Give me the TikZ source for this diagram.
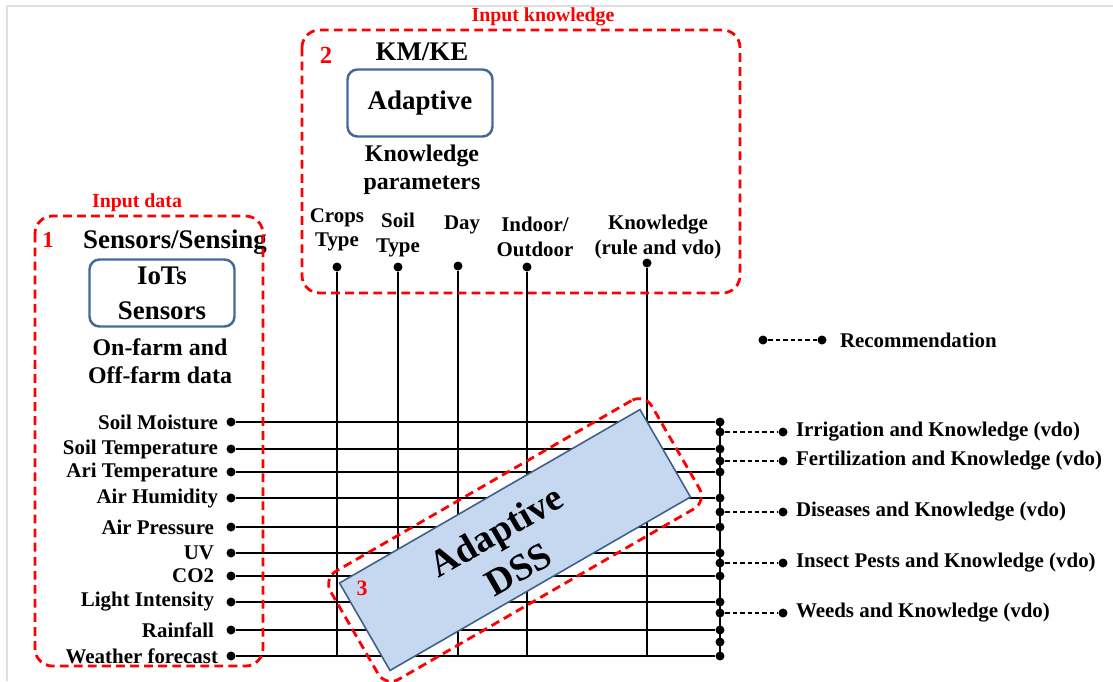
\documentclass[tikz,border=0pt]{standalone}
\usepackage{fontspec}
\setmainfont{Liberation Serif}
\usepackage{tikz}
\usetikzlibrary{positioning}

\definecolor{boxblue}{HTML}{41689B}
\definecolor{dssfill}{HTML}{C6D8EF}
\definecolor{dssedge}{HTML}{3F5F8A}

\tikzset{
  dot/.style={circle,fill=black,inner sep=0pt,minimum size=0.18cm},
  sens/.style={font=\fontsize{11.9}{14}\selectfont\bfseries,inner sep=1pt},
  param/.style={font=\fontsize{11.9}{14}\selectfont\bfseries,align=center,inner sep=1pt},
  head/.style={font=\fontsize{15.3}{18}\selectfont\bfseries,inner sep=1pt},
  sub/.style={font=\fontsize{13.6}{16}\selectfont\bfseries,align=center,inner sep=1pt},
  redlab/.style={font=\fontsize{11.3}{13}\selectfont\bfseries,text=red,inner sep=1pt},
  rednum/.style={font=\fontsize{14}{16}\selectfont\bfseries,text=red,inner sep=1pt},
  bluebox/.style={draw=boxblue,line width=1.4pt,rounded corners=0.2cm,align=center,
    font=\fontsize{15.3}{20}\selectfont\bfseries,minimum width=2.9cm,minimum height=1.34cm},
  redbox/.style={draw=red,line width=1.6pt,dash pattern=on 5pt off 3pt,rounded corners=0.35cm},
  reco/.style={line width=0.8pt,dash pattern=on 2.5pt off 1.7pt},
}

\begin{document}
\begin{tikzpicture}[x=0.02cm,y=-0.02cm,line width=1pt]
\useasboundingbox (0,0) rectangle (1113,681);
\draw[gray!25,line width=1.2pt] (1113,6) -- (7,6) -- (7,681);

% input data (sensors)
\node[redlab] (indata) at (137,203) {Input data};
\node[rednum,font=\fontsize{13}{15}\selectfont\bfseries] (n1) at (48,240) {1};
\node[head] (sensing) at (175,242) {Sensors/Sensing};
\node[bluebox] (iot) at (162,293) {IoTs\\Sensors};
\node[sub] (farm) at (160,361) {On-farm and\\Off-farm data};

\node[dot] (d1) at (231,422) {};
\node[dot] (d2) at (231,449) {};
\node[dot] (d3) at (231,472) {};
\node[dot] (d4) at (231,498) {};
\node[dot] (d5) at (231,527) {};
\node[dot] (d6) at (231,553) {};
\node[dot] (d7) at (231,576) {};
\node[dot] (d8) at (231,602) {};
\node[dot] (d9) at (231,630) {};
\node[dot] (d10) at (231,656) {};
\node[sens,left=0.1cm of d1] (s1) {Soil Moisture};
\node[sens,left=0.1cm of d2] (s2) {Soil Temperature};
\node[sens,left=0.1cm of d3] (s3) {Ari Temperature};
\node[sens,left=0.1cm of d4] (s4) {Air Humidity};
\node[sens,left=0.18cm of d5] (s5) {Air Pressure};
\node[sens,left=0.18cm of d6] (s6) {UV};
\node[sens,left=0.18cm of d7] (s7) {CO2};
\node[sens,left=0.18cm of d8] (s8) {Light Intensity};
\node[sens,left=0.18cm of d9] (s9) {Rainfall};
\node[sens,left=0.1cm of d10] (s10) {Weather forecast};

% bus on the right
\node[dot] (r1) at (720,422) {};
\node[dot] (r2) at (720,449) {};
\node[dot] (r3) at (720,472) {};
\node[dot] (r4) at (720,498) {};
\node[dot] (r5) at (720,527) {};
\node[dot] (r6) at (720,553) {};
\node[dot] (r7) at (720,576) {};
\node[dot] (r8) at (720,602) {};
\node[dot] (r9) at (720,630) {};
\node[dot] (r10) at (720,656) {};
\node[dot] (rx) at (720,642) {};
\draw (d1) -- (r1);
\draw (d2) -- (r2);
\draw (d3) -- (r3);
\draw (d4) -- (r4);
\draw (d5) -- (r5);
\draw (d6) -- (r6);
\draw (d7) -- (r7);
\draw (d8) -- (r8);
\draw (d9) -- (r9);
\draw (d10) -- (r10);
\draw (r1.center) -- (r10.center);

% knowledge parameters
\node[redlab] (inknow) at (543,17) {Input knowledge};
\node[rednum] (n2) at (326,55) {2};
\node[head] (kmke) at (422,52) {KM/KE};
\node[bluebox] (adapt) at (420,103) {Adaptive};
\node[sub] (kpar) at (422,170) {Knowledge\\parameters};

\node[param] (t1) at (337,230) {Crops\\Type};
\node[param] (t2) at (398,235) {Soil\\Type};
\node[param] (t3) at (462,225) {Day};
\node[param] (t4) at (535,237) {Indoor/\\Outdoor};
\node[param] (t5) at (658,237) {Knowledge\\(rule and vdo)};
\node[dot] (p1) at (337,267) {};
\node[dot] (p2) at (398,267) {};
\node[dot] (p3) at (458,266) {};
\node[dot] (p4) at (527,267) {};
\node[dot] (p5) at (647,263) {};
\coordinate (b1) at (337,656);
\coordinate (b2) at (398,656);
\coordinate (b3) at (458,656);
\coordinate (b4) at (527,656);
\coordinate (b5) at (647,656);
\draw (p1) -- (b1);
\draw (p2) -- (b2);
\draw (p3) -- (b3);
\draw (p4) -- (b4);
\draw (p5) -- (b5);

% recommendations
\node[dot] (o1) at (720,432) {};
\node[dot] (o2) at (720,461) {};
\node[dot] (o3) at (720,512) {};
\node[dot] (o4) at (720,563) {};
\node[dot] (o5) at (720,613) {};
\node[dot] (e1) at (783,432) {};
\node[dot] (e2) at (783,461) {};
\node[dot] (e3) at (783,512) {};
\node[dot] (e4) at (783,563) {};
\node[dot] (e5) at (783,613) {};
\draw[reco] (o1) -- (e1);
\draw[reco] (o2) -- (e2);
\draw[reco] (o3) -- (e3);
\draw[reco] (o4) -- (e4);
\draw[reco] (o5) -- (e5);
\node[sens,right=0.1cm of e1] (a1) {Irrigation and Knowledge (vdo)};
\node[sens,right=0.1cm of e2] (a2) {Fertilization and Knowledge (vdo)};
\node[sens,right=0.1cm of e3] (a3) {Diseases and Knowledge (vdo)};
\node[sens,right=0.1cm of e4] (a4) {Insect Pests and Knowledge (vdo)};
\node[sens,right=0.1cm of e5] (a5) {Weeds and Knowledge (vdo)};

% legend
\node[dot] (l1) at (763,340) {};
\node[dot] (l2) at (822,340) {};
\draw[reco] (l1) -- (l2);
\node[sens,right=0.2cm of l2] (leg) {Recommendation};

% the dashed groups
\draw[redbox] (35,216) rectangle (263,666);
\draw[redbox] (302,30) rectangle (740,293);

% adaptive DSS
\node[draw=dssedge,fill=dssfill,line width=0.9pt,rotate=30,minimum width=6.94cm,minimum height=2.02cm] (dss) at (515,540) {};
\node[rotate=30,align=center,font=\fontsize{21.5}{25}\selectfont\bfseries] (dsstxt) at (507,550) {Adaptive\\DSS};
\node[redbox,rotate=30,minimum width=7.42cm,minimum height=2.5cm,rounded corners=0.3cm] (dssgrp) at (515,540) {};
\node[rednum,font=\fontsize{12.5}{14}\selectfont\bfseries] (n3) at (362,588) {3};
\end{tikzpicture}
\end{document}
